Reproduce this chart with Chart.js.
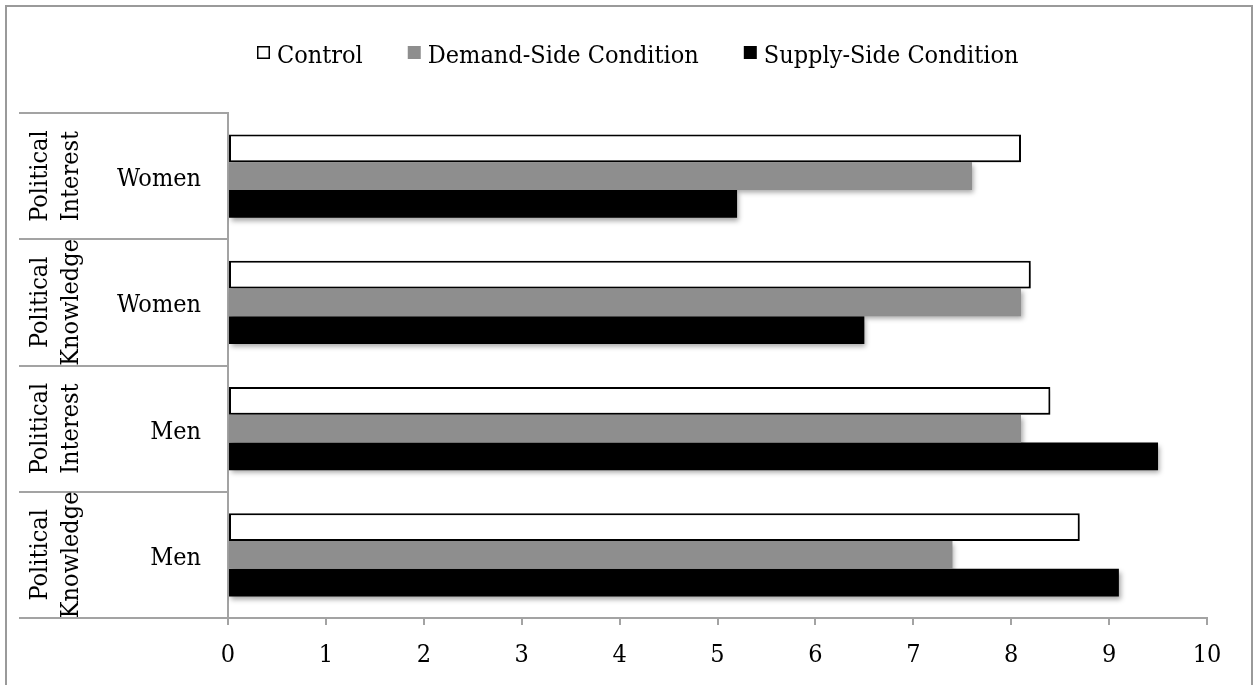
<!DOCTYPE html>
<html>
<head>
<meta charset="utf-8">
<script src="https://cdn.jsdelivr.net/npm/chart.js@4/dist/chart.umd.min.js"></script>
<style>
  html, body { margin: 0; padding: 0; background: #fff; }
  #wrap { position: relative; width: 1256px; height: 685px; }
</style>
</head>
<body>
<div id="wrap"><canvas id="chart"></canvas></div>
<script>
// Row labels: outcome measure (two stacked lines) and respondent group
const measures = [
  ['Political', 'Interest'],
  ['Political', 'Knowledge'],
  ['Political', 'Interest'],
  ['Political', 'Knowledge']
];
const groups = ['Women', 'Women', 'Men', 'Men'];

// Series
const seriesNames = ['Control', 'Demand-Side Condition', 'Supply-Side Condition'];
const control = [8.1, 8.2, 8.4, 8.7];
const demandSide = [7.6, 8.1, 8.1, 7.4];
const supplySide = [5.2, 6.5, 9.5, 9.1];

// Value axis range
const axisMin = 0;
const axisMax = 10;
const axisStep = 1;

const FONT = "'DejaVu Serif Condensed', 'Liberation Serif', serif";
const FONT_SIZE = 25;
const LINE_GREY = '#a3a3a3';
const FRAME_GREY = '#9a9a9a';

Chart.defaults.font.family = FONT;
Chart.defaults.color = '#000';

// Soft drop shadow under the bars
const barShadow = {
  id: 'barShadow',
  beforeDatasetsDraw(chart) {
    const ctx = chart.ctx;
    ctx.save();
    ctx.shadowColor = 'rgba(0,0,0,0.35)';
    ctx.shadowBlur = 5;
    ctx.shadowOffsetX = 2;
    ctx.shadowOffsetY = 3;
  },
  afterDatasetsDraw(chart) {
    chart.ctx.restore();
  }
};

// Outer frame, two-level row header table and the legend
const decorations = {
  id: 'decorations',
  afterDraw(chart) {
    const ctx = chart.ctx;
    const y = chart.scales.y;
    const n = chart.data.labels.length;
    const band = (y.bottom - y.top) / n;
    const tableLeft = 19;
    const tableRight = y.right;

    ctx.save();
    // frame
    ctx.strokeStyle = FRAME_GREY;
    ctx.lineWidth = 2;
    ctx.beginPath();
    ctx.moveTo(6, chart.height + 5);
    ctx.lineTo(6, 6);
    ctx.lineTo(chart.width - 4, 6);
    ctx.lineTo(chart.width - 4, chart.height + 5);
    ctx.stroke();

    // row separators
    ctx.strokeStyle = LINE_GREY;
    ctx.lineWidth = 2;
    for (let i = 0; i <= n; i++) {
      const yy = Math.round(y.top + i * band);
      ctx.beginPath();
      ctx.moveTo(tableLeft, yy);
      ctx.lineTo(tableRight, yy);
      ctx.stroke();
    }

    // labels
    ctx.fillStyle = '#000';
    ctx.font = FONT_SIZE + 'px ' + FONT;
    for (let i = 0; i < n; i++) {
      const cy = y.getPixelForValue(i);
      ctx.save();
      ctx.translate(0, cy);
      ctx.rotate(-Math.PI / 2);
      ctx.textAlign = 'center';
      ctx.textBaseline = 'alphabetic';
      ctx.fillText(measures[i][0], 0, 47);
      ctx.fillText(measures[i][1], 0, 78);
      ctx.restore();

      ctx.textAlign = 'right';
      ctx.textBaseline = 'alphabetic';
      ctx.fillText(groups[i], 201, cy + 10);
    }

    // legend
    let x = 257;
    const boxSize = 13;
    const boxTop = 46;
    chart.data.datasets.forEach((ds) => {
      ctx.fillStyle = ds.backgroundColor;
      ctx.fillRect(x, boxTop, boxSize, boxSize);
      if (ds.borderWidth) {
        ctx.strokeStyle = '#000';
        ctx.lineWidth = 1.5;
        ctx.strokeRect(x + 0.75, boxTop + 0.75, boxSize - 1.5, boxSize - 1.5);
      }
      ctx.fillStyle = '#000';
      ctx.textAlign = 'left';
      ctx.fillText(ds.label, x + boxSize + 7, 63);
      x += boxSize + 7 + ctx.measureText(ds.label).width + 45;
    });
    ctx.restore();
  }
};

new Chart(document.getElementById('chart'), {
  type: 'bar',
  data: {
    labels: groups.map((g, i) => measures[i].join(' ') + ' ' + g),
    datasets: [
      { label: seriesNames[0], data: control, backgroundColor: '#ffffff', borderColor: '#000000', borderWidth: 2, borderSkipped: false },
      { label: seriesNames[1], data: demandSide, backgroundColor: '#8e8e8e', borderWidth: 0 },
      { label: seriesNames[2], data: supplySide, backgroundColor: '#000000', borderWidth: 0 }
    ]
  },
  options: {
    indexAxis: 'y',
    responsive: true,
    maintainAspectRatio: false,
    animation: false,
    categoryPercentage: 0.66,
    barPercentage: 1.0,
    layout: { padding: { left: 228, right: 49, top: 113, bottom: 0 } },
    plugins: {
      legend: { display: false },
      tooltip: { enabled: false }
    },
    scales: {
      x: {
        min: axisMin,
        max: axisMax,
        ticks: { stepSize: axisStep, font: { size: FONT_SIZE }, color: '#000', padding: 15 },
        grid: { display: true, drawOnChartArea: false, drawTicks: true, tickLength: 7, color: LINE_GREY, lineWidth: 2 },
        border: { display: true, color: LINE_GREY, width: 2 }
      },
      y: {
        ticks: { display: false },
        grid: { display: false, drawTicks: false },
        border: { display: true, color: LINE_GREY, width: 2 }
      }
    }
  },
  plugins: [barShadow, decorations]
});
</script>
</body>
</html>
